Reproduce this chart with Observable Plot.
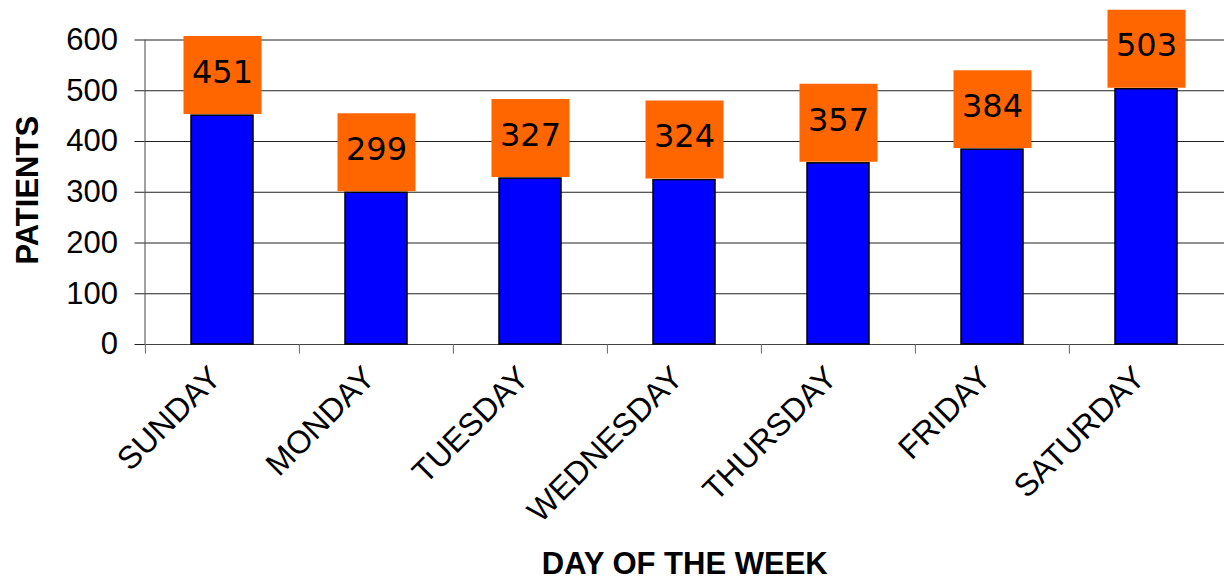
<!DOCTYPE html>
<html>
<head>
<meta charset="utf-8">
<script src="https://cdn.jsdelivr.net/npm/d3@7"></script>
<script src="https://cdn.jsdelivr.net/npm/@observablehq/plot@0.6"></script>
<style>
  html, body { margin: 0; padding: 0; background: white; }
</style>
</head>
<body>
<div id="chart"></div>
<script>
const days = ["SUNDAY", "MONDAY", "TUESDAY", "WEDNESDAY", "THURSDAY", "FRIDAY", "SATURDAY"];
const patients = [451, 299, 327, 324, 357, 384, 503];
const yTicks = [0, 100, 200, 300, 400, 500, 600];

const data = days.map((d, i) => ({day: d, patients: patients[i]}));

const W = 1224, H = 583, ML = 144.5, MR = 0;
const step = (W - ML - MR) / days.length;

const chart = Plot.plot({
  width: W,
  height: H,
  marginLeft: ML,
  marginRight: MR,
  marginTop: 39.5,
  marginBottom: 239,
  x: {domain: days, padding: 0, axis: null},
  y: {domain: [0, 600], axis: null},
  style: {fontFamily: "'Liberation Sans', Arial, sans-serif", fontSize: "30px", background: "white", color: "black"},
  marks: [
    Plot.gridY(yTicks, {stroke: "#222", strokeOpacity: 1}),
    Plot.axisY(yTicks, {tickSize: 10, tickPadding: 17, label: null, stroke: "#222", fontSize: 31}),
    Plot.ruleY([0], {stroke: "#444"}),
    Plot.frame({anchor: "left", stroke: "#444"}),
    Plot.ruleX(days, {x: d => d, dx: -step / 2, y1: 0, y2: -19, stroke: "#666"}),
    Plot.barY(data, {x: "day", y: "patients", fill: "#0000ff", stroke: "black", strokeWidth: 1.5, insetLeft: 46, insetRight: 46}),
    Plot.dot(data, {x: "day", y: "patients", symbol: "square", r: 44, fill: "#ff6600", dy: -40.5}),
    Plot.text(data, {x: "day", y: "patients", text: d => String(d.patients), dy: -43, fontFamily: "DejaVu Sans", fontSize: 32, fill: "black"}),
    Plot.axisX({tickSize: 0, tickPadding: 28, tickRotate: -45, label: null, dx: -7, fontSize: 32}),
    Plot.text(["PATIENTS"], {frameAnchor: "left", dx: -117, dy: -2, rotate: -90, text: d => d, textAnchor: "middle", lineAnchor: "middle", fontWeight: "bold", fontSize: 31}),
    Plot.text(["DAY OF THE WEEK"], {frameAnchor: "bottom", dy: 220, text: d => d, textAnchor: "middle", lineAnchor: "middle", fontWeight: "bold", fontSize: 31})
  ]
});
document.getElementById("chart").appendChild(chart);
</script>
</body>
</html>
